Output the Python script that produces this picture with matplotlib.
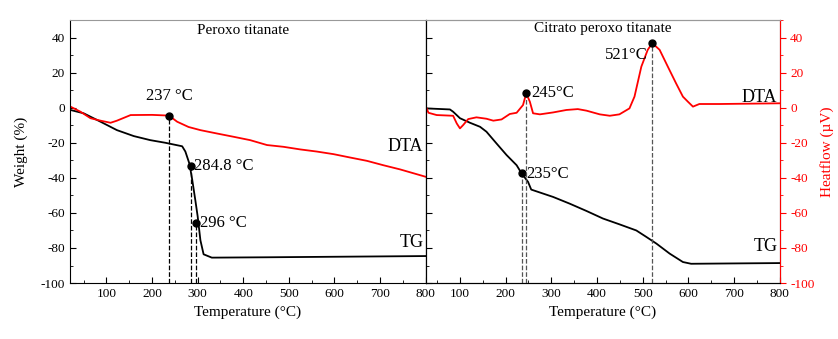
import matplotlib.pyplot as plt
from matplotlib.ticker import MultipleLocator

plt.rcParams['font.family'] = ['Liberation Serif', 'DejaVu Serif']
plt.rcParams['axes.unicode_minus'] = False

# Peroxo titanate: TG (weight %) and DTA (heatflow)
p_tg_T = [21, 50, 87, 123, 160, 196, 229, 266, 273, 282, 288, 295, 300, 306, 313, 331, 450, 600, 800]
p_tg_w = [-1.3, -3.2, -8, -12.8, -16.2, -18.5, -20, -22, -25, -32, -41, -53, -62, -75.6, -83.6, -85.5, -85.3, -85, -84.6]
p_dta_T = [21, 43, 65, 87, 109, 123, 153, 200, 237, 255, 280, 306, 342, 379, 415, 452, 488, 525, 561,
           598, 634, 671, 707, 744, 780, 800]
p_dta_h = [0.6, -2.3, -6, -7.4, -8.6, -7.4, -4.2, -4.1, -4.5, -8, -11, -12.8, -14.7, -16.6, -18.5,
           -21.3, -22.3, -23.8, -25, -26.5, -28.4, -30.3, -32.8, -35.2, -37.9, -39.4]

# Citrato peroxo titanate
c_tg_T = [26, 78, 85, 100, 122, 144, 158, 180, 202, 224, 235, 249, 256, 304, 340, 377, 413, 449, 486,
          508, 530, 559, 588, 606, 700, 800]
c_tg_w = [-0.4, -1, -2.3, -6, -8.6, -10.9, -13.7, -20.4, -27, -32.8, -37.5, -42.3, -46.7, -50.9, -54.7,
          -58.9, -63.2, -66.5, -70, -73.7, -77.5, -83.2, -88, -89, -88.8, -88.6]
c_dta_T = [26, 31, 49, 85, 93, 100, 107, 118, 136, 158, 173, 191, 209, 224, 238, 245, 253, 260, 275,
           304, 333, 358, 377, 406, 428, 449, 471, 482, 497, 511, 521, 537, 555, 573, 588, 599, 610,
           624, 669, 800]
c_dta_h = [0.2, -2.9, -4.2, -4.6, -9, -11.8, -9.9, -6.5, -5.5, -6.3, -7.4, -6.7, -3.6, -2.9, 1.5, 8.2,
           3.4, -3.2, -3.8, -2.7, -1.3, -0.8, -1.7, -3.8, -4.6, -3.8, -0.4, 6.3, 23.4, 33, 36.8, 33,
           23.4, 13.9, 6.3, 3.4, 0.6, 2.1, 2.1, 2.5]

# marked events: (temperature, value)
p_tg_marks = [(284.8, -33), (296, -66)]
p_dta_marks = [(237, -4.5)]
c_tg_marks = [(235, -37.5)]
c_dta_marks = [(245, 8.2), (521, 36.8)]

fig = plt.figure(figsize=(8.38, 3.39), dpi=100)
ax1 = fig.add_axes([0.0835, 0.165, 0.4245, 0.776])
ax2 = fig.add_axes([0.508, 0.165, 0.4225, 0.776])

for ax in (ax1, ax2):
    ax.set_ylim(-100, 50)
    ax.xaxis.set_major_locator(MultipleLocator(100))
    ax.xaxis.set_minor_locator(MultipleLocator(50))
    ax.yaxis.set_major_locator(MultipleLocator(20))
    ax.yaxis.set_minor_locator(MultipleLocator(10))
    ax.tick_params(which='both', direction='in', labelsize=9.5)
    ax.tick_params(which='major', length=4)
    ax.tick_params(which='minor', length=2)
    ax.spines['top'].set_color('#999999')
    ax.set_xlabel('Temperature (°C)', fontsize=11)

ax1.set_xlim(20, 800)
ax2.set_xlim(25, 800)
ax1.set_xticks(range(100, 801, 100))
ax2.set_xticks(range(100, 801, 100))
ax1.set_ylabel('Weight (%)', fontsize=11, labelpad=9)
ax2.tick_params(axis='y', which='both', left=False, labelleft=False)

# left panel
ax1.plot(p_tg_T, p_tg_w, color='black', lw=1.3)
ax1.plot(p_dta_T, p_dta_h, color='red', lw=1.3)
for t, v in p_tg_marks + p_dta_marks:
    ax1.plot([t, t], [-100, v], color='black', ls='--', lw=0.9)
    ax1.plot(t, v, 'o', color='black', ms=5)
ax1.text(237, 2, '237 °C', ha='center', va='bottom', fontsize=12)
ax1.text(292, -33, '284.8 °C', ha='left', va='center', fontsize=12)
ax1.text(305, -66, '296 °C', ha='left', va='center', fontsize=12)
ax1.text(400, 44, 'Peroxo titanate', ha='center', va='center', fontsize=11)
ax1.text(795, -22, 'DTA', ha='right', va='center', fontsize=13)
ax1.text(795, -77, 'TG', ha='right', va='center', fontsize=13)

# right panel, heatflow on a red right-hand axis
ax3 = ax2.twinx()
ax3.set_ylim(-100, 50)
ax3.yaxis.set_major_locator(MultipleLocator(20))
ax3.yaxis.set_minor_locator(MultipleLocator(10))
ax3.tick_params(axis='y', which='both', direction='out', colors='red', labelsize=9.5)
ax3.tick_params(axis='y', which='major', length=4)
ax3.tick_params(axis='y', which='minor', length=2)
ax3.spines['right'].set_color('red')
ax3.spines['top'].set_color('#999999')
ax3.set_ylabel('Heatflow (µV)', color='red', fontsize=11)

ax2.plot(c_tg_T, c_tg_w, color='black', lw=1.3)
ax3.plot(c_dta_T, c_dta_h, color='red', lw=1.3)
for t, v in c_tg_marks + c_dta_marks:
    ax3.plot([t, t], [-100, v], color='#555555', ls='--', lw=0.9)
    ax3.plot(t, v, 'o', color='black', ms=5)
ax3.text(255, 8.2, '245°C', ha='left', va='center', fontsize=12)
ax3.text(245, -38, '235°C', ha='left', va='center', fontsize=12)
ax3.text(510, 30, '521°C', ha='right', va='center', fontsize=12)
ax3.text(412, 45, 'Citrato peroxo titanate', ha='center', va='center', fontsize=11)
ax3.text(795, 6, 'DTA', ha='right', va='center', fontsize=13)
ax3.text(795, -79, 'TG', ha='right', va='center', fontsize=13)

fig.savefig('out.png', dpi=100)
